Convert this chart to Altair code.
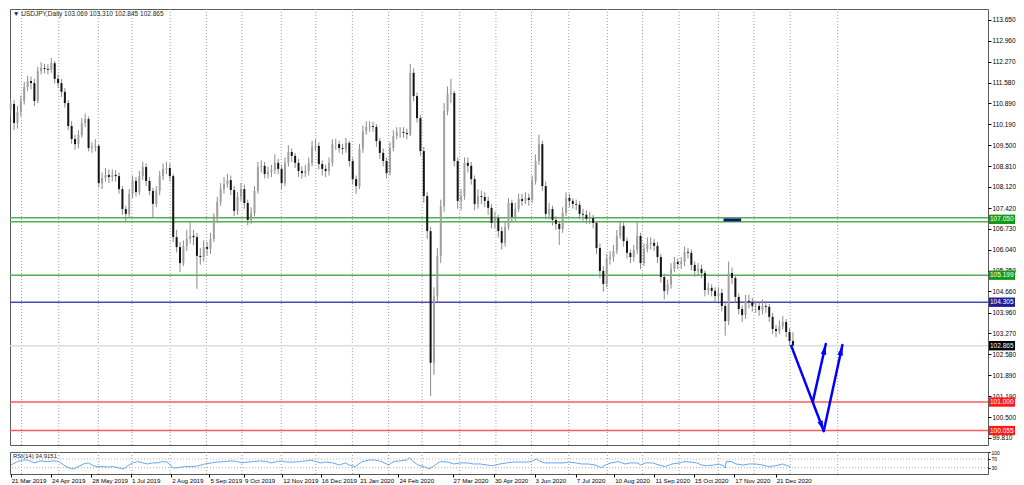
import math
import altair as alt
import pandas as pd

# ---------------- data ----------------
title_text = ["\u25BC USDJPY,Daily  103.069 103.310 102.845 102.865"]
rsi_title = ["RSI(14) 34.9151"]

first_open = 110.70
close = [110.87, 110.24, 110.60, 110.97, 111.43, 111.63, 111.56, 110.97, 111.96, 112.06,
         112.03, 112.00, 112.22, 111.70, 111.56, 111.27, 110.90, 110.14, 109.71, 109.54,
         109.84, 110.24, 110.37, 109.41, 109.44, 109.48, 108.25, 108.42, 108.52, 108.45,
         108.52, 108.48, 108.05, 107.39, 107.23, 107.89, 108.32, 107.95, 108.48, 108.78,
         108.32, 107.99, 107.56, 107.99, 108.48, 108.72, 108.75, 108.48, 106.46, 106.13,
         105.60, 106.17, 106.40, 106.50, 106.46, 105.84, 105.80, 106.13, 106.07, 106.40,
         107.06, 107.62, 108.05, 108.22, 108.35, 108.02, 107.33, 107.79, 108.05, 107.59,
         107.03, 107.26, 107.99, 108.78, 108.82, 108.55, 108.62, 108.68, 108.92, 108.72,
         108.25, 108.92, 109.28, 109.15, 108.92, 108.65, 108.58, 108.65, 108.92, 109.44,
         109.48, 108.88, 108.72, 108.65, 108.92, 109.54, 109.54, 109.41, 109.38, 109.58,
         108.98, 108.38, 108.15, 109.38, 109.97, 110.11, 110.14, 110.11, 109.64, 109.25,
         108.98, 108.58, 109.41, 109.81, 109.94, 109.94, 109.91, 109.87, 111.90, 111.13,
         110.40, 109.31, 107.82, 106.66, 102.30, 104.50, 105.84, 107.49, 110.64, 111.20,
         111.23, 108.98, 107.66, 107.82, 108.92, 108.82, 108.38, 107.56, 107.82, 107.79,
         107.66, 107.43, 106.93, 107.09, 106.66, 106.27, 106.80, 107.59, 107.13, 107.39,
         107.72, 107.66, 107.76, 107.69, 108.32, 108.98, 109.54, 108.15, 107.23, 107.39,
         107.03, 106.90, 106.73, 107.26, 107.76, 107.66, 107.56, 107.53, 107.23, 107.20,
         107.06, 107.09, 106.93, 106.10, 105.34, 104.91, 105.74, 105.80, 106.00, 106.50,
         106.83, 106.33, 105.94, 105.80, 106.03, 106.50, 105.60, 106.07, 106.23, 106.27,
         106.17, 105.80, 105.14, 104.68, 104.88, 105.41, 105.64, 105.57, 105.64, 105.97,
         105.94, 105.54, 105.34, 105.41, 105.27, 104.71, 104.78, 104.68, 104.51, 104.61,
         104.18, 103.68, 105.27, 105.11, 104.48, 104.08, 103.88, 104.35, 104.31, 104.18,
         104.18, 104.05, 104.18, 104.15, 103.82, 103.42, 103.35, 103.51, 103.65, 103.32,
         103.02, 102.87]
high = [111.05, 111.00, 110.80, 111.15, 111.60, 111.80, 111.78, 111.70, 112.10, 112.25,
        112.20, 112.18, 112.40, 112.30, 111.85, 111.70, 111.40, 111.00, 110.30, 109.85,
        110.00, 110.40, 110.55, 110.45, 109.60, 109.70, 109.55, 108.60, 108.75, 108.70,
        108.70, 108.68, 108.60, 108.15, 107.50, 108.05, 108.50, 108.45, 108.65, 108.95,
        108.90, 108.45, 108.10, 108.15, 108.65, 108.90, 108.95, 108.90, 108.55, 106.70,
        106.30, 106.35, 106.70, 106.95, 106.70, 106.60, 106.10, 106.35, 106.30, 106.60,
        107.25, 107.80, 108.25, 108.45, 108.55, 108.50, 108.15, 107.95, 108.25, 108.20,
        107.70, 107.45, 108.15, 108.95, 109.00, 108.95, 108.80, 108.85, 109.20, 109.05,
        108.85, 109.10, 109.50, 109.40, 109.25, 109.05, 108.80, 108.85, 109.10, 109.65,
        109.70, 109.60, 109.00, 108.85, 109.10, 109.70, 109.72, 109.65, 109.55, 109.75,
        109.65, 109.10, 108.50, 109.55, 110.15, 110.30, 110.30, 110.28, 110.20, 109.75,
        109.40, 109.10, 109.60, 110.00, 110.10, 110.10, 110.10, 110.05, 112.20, 112.05,
        111.25, 110.50, 109.45, 107.95, 106.80, 104.80, 106.10, 107.70, 110.90, 111.45,
        111.70, 111.30, 109.10, 108.05, 109.10, 109.10, 108.95, 108.50, 108.05, 108.00,
        107.95, 107.80, 107.55, 107.30, 107.20, 106.80, 107.00, 107.75, 107.70, 107.60,
        107.90, 107.90, 107.95, 107.90, 108.50, 109.20, 109.85, 109.65, 108.30, 107.60,
        107.50, 107.15, 107.00, 107.45, 107.95, 107.90, 107.75, 107.70, 107.65, 107.40,
        107.35, 107.30, 107.20, 107.00, 106.25, 105.50, 105.90, 106.00, 106.20, 106.70,
        107.00, 106.95, 106.45, 106.05, 106.20, 106.95, 106.60, 106.25, 106.45, 106.45,
        106.40, 106.30, 105.90, 105.25, 105.05, 105.60, 105.80, 105.75, 105.80, 106.15,
        106.10, 106.05, 105.65, 105.60, 105.55, 105.35, 104.95, 104.90, 104.80, 104.80,
        104.75, 104.30, 105.65, 105.45, 105.20, 104.60, 104.20, 104.55, 104.55, 104.45,
        104.35, 104.30, 104.40, 104.35, 104.25, 103.95, 103.55, 103.70, 103.85, 103.75,
        103.45, 103.31]
low = [110.50, 110.00, 110.05, 110.45, 110.85, 111.30, 111.35, 110.80, 110.90, 111.85,
       111.88, 111.85, 111.90, 111.55, 111.40, 111.10, 110.75, 110.00, 109.55, 109.35,
       109.40, 109.75, 110.10, 109.30, 109.25, 109.30, 108.10, 108.05, 108.30, 108.25,
       108.30, 108.30, 107.90, 107.20, 106.95, 107.10, 107.75, 107.80, 107.85, 108.35,
       108.15, 107.85, 107.10, 107.45, 107.85, 108.35, 108.55, 108.30, 106.30, 105.95,
       105.30, 105.50, 106.00, 106.25, 106.20, 104.75, 105.55, 105.65, 105.85, 105.90,
       106.30, 106.95, 107.50, 107.90, 108.10, 107.85, 107.15, 107.20, 107.65, 107.40,
       106.85, 106.90, 107.15, 107.90, 108.60, 108.40, 108.40, 108.45, 108.55, 108.55,
       108.05, 108.15, 108.80, 108.95, 108.75, 108.45, 108.40, 108.45, 108.50, 108.80,
       109.30, 108.70, 108.50, 108.45, 108.50, 108.80, 109.35, 109.25, 109.20, 109.25,
       108.80, 108.20, 107.90, 108.05, 109.25, 109.85, 109.95, 109.95, 109.45, 109.05,
       108.80, 108.40, 108.50, 109.30, 109.70, 109.75, 109.75, 109.70, 109.80, 110.95,
       110.25, 109.15, 107.60, 106.40, 101.20, 101.90, 104.30, 105.60, 107.30, 110.50,
       110.90, 108.80, 107.40, 107.35, 107.70, 108.60, 108.20, 107.35, 107.40, 107.55,
       107.45, 107.20, 106.75, 106.75, 106.45, 106.05, 106.15, 106.70, 106.95, 107.00,
       107.30, 107.50, 107.55, 107.50, 107.60, 108.20, 108.85, 108.00, 107.05, 107.05,
       106.85, 106.70, 106.20, 106.60, 107.15, 107.45, 107.40, 107.35, 107.05, 107.00,
       106.90, 106.90, 106.75, 105.90, 105.10, 104.65, 104.80, 105.55, 105.65, 105.90,
       106.40, 106.15, 105.75, 105.60, 105.65, 105.90, 105.40, 105.50, 105.95, 106.05,
       106.00, 105.60, 104.95, 104.40, 104.55, 104.75, 105.30, 105.40, 105.40, 105.50,
       105.75, 105.35, 105.15, 105.20, 105.10, 104.50, 104.55, 104.50, 104.30, 104.35,
       104.00, 103.20, 103.55, 104.90, 104.30, 103.90, 103.65, 103.75, 104.10, 104.00,
       103.95, 103.85, 103.90, 103.95, 103.65, 103.25, 103.15, 103.25, 103.40, 103.15,
       102.85, 102.85]

rsi_k = [0, 2, 3.5, 5, 7, 8.7, 10.8, 12.8, 14.2, 15.7,
         17.2, 18.6, 20, 21.5, 23, 24.4, 25.9, 27.3, 28.8, 30.2,
         32, 33.4, 34.6, 36, 37.5, 39, 40.4, 41.9, 43.3, 44.8,
         46.2, 47.1, 48, 49.4, 51.5, 53.5, 55.2, 57.3, 59.3, 61,
         63.1, 65.1, 66.9, 68.3, 69.8, 71.8, 73.8, 75.6, 77, 78.5,
         80, 81.4, 83.4, 85.5, 87.2, 88.7, 90.1, 91.6, 93, 95.1,
         97.1, 98.8, 100, 101.7, 103.8, 105.8, 107.6, 109.6, 111.6, 113.1,
         114.8, 116.9, 117.7, 118.9, 120.3, 122.1, 123.5, 124.7, 126.2, 127,
         129.1, 130.8, 132.8, 134.9, 136.6, 138.7, 140.7, 142.4, 144.5, 146.5,
         148.3, 150.3, 152.3, 153.8, 155.2, 156.1, 157.6, 159.6, 161.3, 163.4,
         164.8, 166.9, 168.6, 170.6, 172.7, 174.4, 175.6, 177.3, 179.4, 181.4,
         183.1, 185.2, 186, 187.5, 189.5, 191.6, 193.3, 195.3, 197.7, 198.8,
         200.6, 202.6, 204.1, 205.5, 207.6, 209, 210.5, 211, 211.3, 212.8,
         214.2, 216.3, 218, 220, 222.1, 223.8, 225.9, 227.9, 229.4, 230.2]
rsi_v = [42, 58, 65, 65, 52, 61, 58, 61, 58, 42,
         29, 24, 35, 47, 52, 39, 35, 35, 33, 35,
         29, 24, 39, 52, 58, 52, 47, 52, 52, 58,
         56, 42, 29, 30, 35, 35, 38, 47, 52, 56,
         58, 61, 58, 52, 56, 58, 61, 58, 52, 58,
         61, 56, 56, 58, 61, 65, 58, 52, 56, 52,
         42, 52, 42, 35, 58, 65, 65, 58, 42, 58,
         61, 65, 76, 58, 42, 35, 24, 35, 52, 58,
         56, 47, 52, 52, 47, 47, 42, 39, 47, 52,
         56, 56, 56, 58, 70, 61, 52, 52, 52, 52,
         56, 52, 47, 47, 42, 30, 42, 52, 58, 47,
         52, 52, 42, 52, 52, 42, 35, 47, 52, 58,
         56, 52, 42, 39, 42, 47, 39, 29, 58, 58,
         47, 42, 47, 47, 42, 35, 39, 47, 39, 34.9]
rsi_levels = [70, 30]
rsi_ticks = [0, 30, 70, 100]

grid_k = [3.2, 14.2, 25.9, 35.8, 47.1, 57.8, 68.3, 79.9, 90.1, 100.9, 111.6, 121.5,
          132.6, 143.3, 153.8, 164.8, 176.2, 186.6, 197.4, 209.0, 219.5, 230.2, 244.2]
date_k = [0, 11.9, 23.8, 35.5, 47.4, 58.7, 68.9, 80.2, 91.6, 102.9, 114.5, 130.5,
          142.7, 154.7, 166.9, 178.2, 190.1, 201.7, 213.7, 225.9]
date_txt = ["21 Mar 2019", "24 Apr 2019", "28 May 2019", "1 Jul 2019", "2 Aug 2019",
            "5 Sep 2019", "9 Oct 2019", "12 Nov 2019", "16 Dec 2019", "21 Jan 2020",
            "24 Feb 2020", "27 Mar 2020", "30 Apr 2020", "3 Jun 2020", "7 Jul 2020",
            "10 Aug 2020", "11 Sep 2020", "15 Oct 2020", "17 Nov 2020", "21 Dec 2020"]

price_ticks = [113.65, 112.96, 112.27, 111.58, 110.89, 110.19, 109.50, 108.81, 108.12,
               107.42, 106.73, 106.04, 105.35, 104.66, 103.96, 103.27, 102.58, 101.89,
               101.19, 100.50, 99.81]

level_price = [107.10, 106.97, 105.199, 104.305, 102.865, 101.000, 100.055]
level_color = ["#4fb04f", "#4fb04f", "#4fb04f", "#4a4ab4", "#dcdcdc", "#ff5a5a", "#ff5a5a"]

box_price = [107.05, 105.199, 104.305, 102.865, 101.000, 100.055]
box_text = ["107.050", "105.199", "104.305", "102.865", "101.000", "100.055"]
box_color = ["#169a16", "#169a16", "#1e1e96", "#000000", "#ff1a1a", "#ff1a1a"]

seg_k1 = [210.5]
seg_k2 = [215.7]
seg_p = [107.03]

arrow_k1 = [230.5, 236.9, 240.1]
arrow_p1 = [102.86, 101.03, 100.04]
arrow_k2 = [240.1, 240.7, 245.6]
arrow_p2 = [100.04, 102.92, 102.89]

# ---------------- layout ----------------
W, H = 978, 436
RH = 22
X_DOM = [-0.2, 288.6]
Y_DOM = [99.577, 114.014]
R_DOM = [1, 102]
FONT = "Liberation Sans"

xs = alt.Scale(domain=X_DOM, nice=False, zero=False)
ys = alt.Scale(domain=Y_DOM, nice=False, zero=False)
rs = alt.Scale(domain=R_DOM, nice=False, zero=False)

y_axis = alt.Axis(orient="right", values=price_ticks, format=".3f", labelFontSize=6.5,
                  labelColor="#000000", tickColor="#000000", tickSize=3, labelPadding=1,
                  domain=False, grid=False, labelOverlap=False, title=None, labelFont=FONT)


def Xk(f):
    return alt.X(f, scale=xs, axis=None)


def Yp(f):
    return alt.Y(f, scale=ys, axis=y_axis)


opens = [first_open] + close[:-1]
bars = pd.DataFrame({"k": list(range(len(close))), "o": opens, "c": close,
                     "h": high, "l": low})
bars["col"] = ["#a0a0a0" if c >= o else "#141414" for o, c in zip(opens, close)]

grid_df = pd.DataFrame({"k": grid_k})
grid = alt.Chart(grid_df).mark_rule(color="#a0a0a0", strokeDash=[1, 2], strokeWidth=1).encode(
    x=Xk("k:Q"))

lev_df = pd.DataFrame({"p": level_price, "col": level_color})
levels = alt.Chart(lev_df).mark_rule(strokeWidth=1.5).encode(
    y=Yp("p:Q"), color=alt.Color("col:N", scale=None))

wicks = alt.Chart(bars).mark_rule(color="#8a8a8a", strokeWidth=1).encode(
    x=Xk("k:Q"), y=Yp("l:Q"), y2="h:Q")
bodies = alt.Chart(bars).mark_rule(strokeWidth=2).encode(
    x=Xk("k:Q"), y=Yp("o:Q"), y2="c:Q", color=alt.Color("col:N", scale=None))

seg_df = pd.DataFrame({"k1": seg_k1, "k2": seg_k2, "p": seg_p})
seg = alt.Chart(seg_df).mark_rule(color="#0f1a6e", strokeWidth=3).encode(
    x=Xk("k1:Q"), x2="k2:Q", y=Yp("p:Q"))

pxk = W / (X_DOM[1] - X_DOM[0])
pxp = H / (Y_DOM[1] - Y_DOM[0])
arr = pd.DataFrame({"k1": arrow_k1, "p1": arrow_p1, "k2": arrow_k2, "p2": arrow_p2})
arr["ang"] = [math.degrees(math.atan2((b - a) * pxk, (d - c) * pxp)) % 360
              for a, b, c, d in zip(arrow_k1, arrow_k2, arrow_p1, arrow_p2)]
arrows = alt.Chart(arr).mark_rule(color="#0000ff", strokeWidth=2.5, strokeCap="round").encode(
    x=Xk("k1:Q"), x2="k2:Q", y=Yp("p1:Q"), y2="p2:Q")
heads = alt.Chart(arr).mark_point(shape="M0,0L0.55,2.1L-0.55,2.1Z", filled=True, size=100,
                                  color="#0000ff", opacity=1, strokeWidth=0).encode(
    x=Xk("k2:Q"), y=Yp("p2:Q"), angle=alt.Angle("ang:Q", scale=None))

box_df = pd.DataFrame({"p": box_price, "t": box_text, "col": box_color})
box_df["lo"] = box_df["p"] - 0.155
box_df["hi"] = box_df["p"] + 0.155
boxes = alt.Chart(box_df).mark_rect().encode(
    x=alt.value(W + 1), x2=alt.value(W + 27), y=Yp("lo:Q"), y2="hi:Q",
    color=alt.Color("col:N", scale=None))
box_txt = alt.Chart(box_df).mark_text(align="left", baseline="middle", fontSize=6.5,
                                      color="white", font=FONT).encode(
    x=alt.value(W + 2), y=Yp("p:Q"), text="t:N")

top = alt.Chart(pd.DataFrame({"t": title_text})).mark_text(
    align="left", baseline="middle", fontSize=6.5, color="#222222", font=FONT).encode(
    x=alt.value(3), y=alt.value(5), text="t:N")

main = alt.layer(grid, levels, wicks, bodies, seg, arrows, heads, boxes, box_txt, top).properties(
    width=W, height=H)

# ---------------- RSI pane ----------------
xr_axis = alt.Axis(values=date_k, labels=False, ticks=True, tickSize=3, tickColor="#000000",
                   domain=False, grid=False, title=None, orient="bottom")
ry_axis = alt.Axis(orient="right", values=rsi_ticks, labelFontSize=5, tickSize=2,
                   tickColor="#000000", labelColor="#000000", domain=False, grid=False,
                   title=None, labelOverlap=False, labelPadding=1, labelFont=FONT)


def Xr(f):
    return alt.X(f, scale=xs, axis=xr_axis)


def Yr(f):
    return alt.Y(f, scale=rs, axis=ry_axis)


rgrid = alt.Chart(grid_df).mark_rule(color="#a0a0a0", strokeDash=[1, 2], strokeWidth=1).encode(
    x=Xr("k:Q"))
rlev = alt.Chart(pd.DataFrame({"v": rsi_levels})).mark_rule(
    color="#b0b0b0", strokeDash=[1, 2], strokeWidth=1).encode(y=Yr("v:Q"))
rline = alt.Chart(pd.DataFrame({"k": rsi_k, "v": rsi_v})).mark_line(
    color="#62a8f2", strokeWidth=1).encode(x=Xr("k:Q"), y=Yr("v:Q"))
rtitle = alt.Chart(pd.DataFrame({"t": rsi_title})).mark_text(
    align="left", baseline="middle", fontSize=6, color="#222222", font=FONT).encode(
    x=alt.value(3), y=alt.value(4), text="t:N")
dates = alt.Chart(pd.DataFrame({"k": date_k, "t": date_txt})).mark_text(
    align="left", baseline="middle", fontSize=6.2, color="#000000", font=FONT, dx=1).encode(
    x=Xr("k:Q"), y=alt.value(RH + 7), text="t:N")

rsi = alt.layer(rgrid, rlev, rline, rtitle, dates).properties(width=W, height=RH)

chart = alt.vconcat(main, rsi, spacing=3).properties(
    padding=0, background="white"
).configure_view(stroke="#5a5a5a", strokeWidth=1)

chart.save("out.html", embed_options={"renderer": "svg", "actions": False})
